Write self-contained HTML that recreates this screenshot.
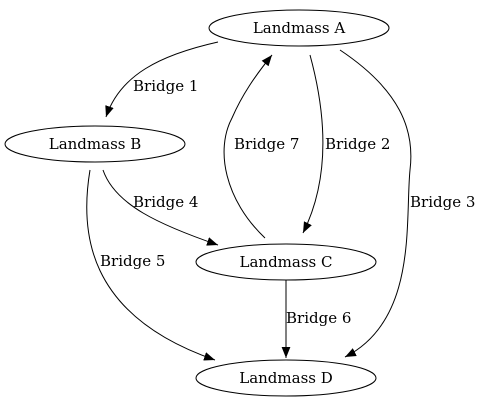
<!DOCTYPE html>
<html><head><style>html,body{margin:0;padding:0;background:#fff}svg{display:block}text{font-family:"DejaVu Serif","Liberation Serif",serif;font-size:15px}</style></head>
<body>
<svg width="497" height="407" viewBox="0 0 497 407" xmlns="http://www.w3.org/2000/svg">
<defs>
<marker id="ar" viewBox="0 0 10 10" refX="10" refY="5" markerWidth="11" markerHeight="11" markerUnits="userSpaceOnUse" orient="auto">
<path d="M0,1 L10,5 L0,9 z" fill="#000"/>
</marker>
</defs>
<g fill="none" stroke="#000" stroke-width="1">
<ellipse cx="299" cy="28" rx="90" ry="18"/>
<ellipse cx="95" cy="144" rx="90" ry="18"/>
<ellipse cx="286" cy="262" rx="90" ry="18"/>
<ellipse cx="286" cy="378" rx="90" ry="18"/>
<path d="M218,42 C160,55 120,75 106,117" marker-end="url(#ar)"/>
<path d="M103,170 C115,205 160,225 218,245" marker-end="url(#ar)"/>
<path d="M90,170 C80,230 85,315 215,360" marker-end="url(#ar)"/>
<path d="M265,238 C225,200 215,150 232,118 C242,95 255,76 272,55" marker-end="url(#ar)"/>
<path d="M310,55 C325,110 332,175 303,233" marker-end="url(#ar)"/>
<path d="M340,50 C400,90 415,130 410,170 C405,220 418,320 345,357" marker-end="url(#ar)"/>
<path d="M286,280 L286,358" marker-end="url(#ar)"/>
</g>
<g fill="#000" text-anchor="middle">
<text x="299" y="33">Landmass A</text>
<text x="95" y="149">Landmass B</text>
<text x="286" y="267">Landmass C</text>
<text x="286" y="383">Landmass D</text>
</g>
<g fill="#000">
<text x="133" y="91">Bridge 1</text>
<text x="234" y="149">Bridge 7</text>
<text x="325" y="149">Bridge 2</text>
<text x="410" y="207">Bridge 3</text>
<text x="133" y="207">Bridge 4</text>
<text x="100" y="266">Bridge 5</text>
<text x="286" y="323">Bridge 6</text>
</g>
</svg>
</body></html>
